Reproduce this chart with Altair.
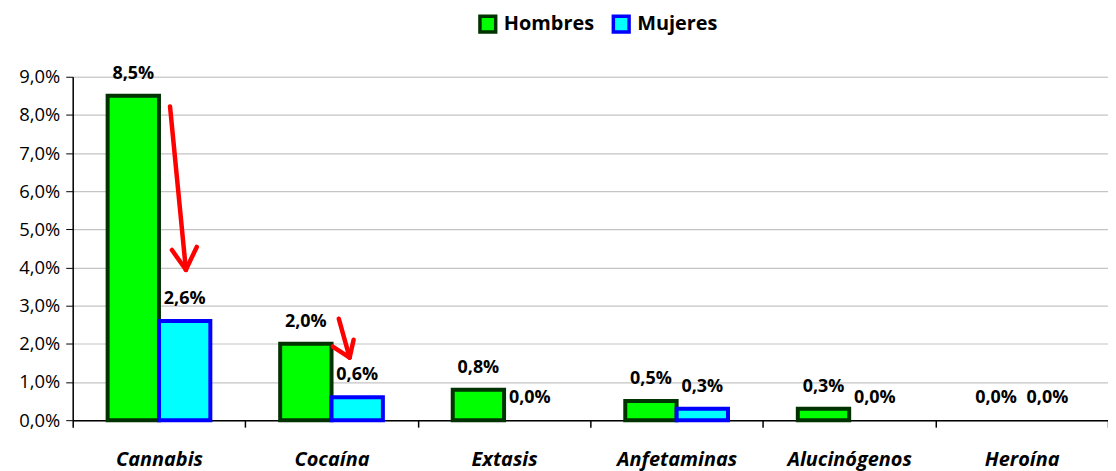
import altair as alt
import pandas as pd

drogas = ["Cannabis", "Cocaína", "Extasis", "Anfetaminas", "Alucinógenos", "Heroína"]
sexos = ["Hombres", "Mujeres"]
hombres = [0.085, 0.020, 0.008, 0.005, 0.003, 0.0]
mujeres = [0.026, 0.006, 0.0, 0.003, 0.0, 0.0]
y_ticks = [0.0, 0.01, 0.02, 0.03, 0.04, 0.05, 0.06, 0.07, 0.08, 0.09]

# red arrow annotations (in band units along x, value units along y)
arrow_x = [0.564, 0.575, 0.719, 1.542, 1.507, 1.628]
arrow_y = [0.0822, 0.0446, 0.0454, 0.0266, 0.0193, 0.0211]
arrow_x2 = [0.656, 0.656, 0.656, 1.605, 1.605, 1.605]
arrow_y2 = [0.0394, 0.0394, 0.0394, 0.0164, 0.0164, 0.0164]

rows = []
for d, h, m in zip(drogas, hombres, mujeres):
    rows.append({"droga": d, "sexo": "Hombres", "valor": h})
    rows.append({"droga": d, "sexo": "Mujeres", "valor": m})
df = pd.DataFrame(rows)
arrows = pd.DataFrame({"x": arrow_x, "y": arrow_y, "x2": arrow_x2, "y2": arrow_y2})

FONT = "Open Sans"

x_enc = alt.X(
    "droga:N",
    sort=drogas,
    scale=alt.Scale(paddingInner=0, paddingOuter=0),
    axis=alt.Axis(
        title=None, labelAngle=0, labelFont=FONT, labelFontSize=20,
        labelFontWeight="bold", labelFontStyle="italic", labelColor="black",
        domainColor="black", domainWidth=1.5, tickColor="black", tickSize=7,
        tickWidth=1.5, tickBand="extent", labelPadding=23, grid=False,
    ),
)
xoff = alt.XOffset("sexo:N", sort=sexos, scale=alt.Scale(paddingOuter=0.68, paddingInner=0))

y_axis = alt.Axis(
    title=None, values=y_ticks, tickCount=12,
    labelExpr="replace(format(datum.value, '.1%'), '.', ',')",
    labelFont=FONT, labelFontSize=18.5, labelColor="black",
    domainColor="black", domainWidth=1.5, tickColor="black", tickSize=7,
    gridColor="#C4C4C4", gridWidth=1.2, labelPadding=6, labelOverlap=False,
)
y_enc = alt.Y("valor:Q", scale=alt.Scale(domain=[0, 0.09], nice=False), axis=y_axis)

leg = alt.Legend(
    title=None, orient="none", legendX=407, legendY=-63, direction="horizontal",
    symbolType="square", symbolSize=250, symbolStrokeWidth=3.5,
    labelFont=FONT, labelFontSize=20, labelFontWeight="bold", labelColor="black",
    columnPadding=12, labelOffset=6, symbolOpacity=1,
)

bars = alt.Chart(df).transform_filter("datum.valor > 0").mark_bar(strokeWidth=4, opacity=1).encode(
    x=x_enc,
    xOffset=xoff,
    y=y_enc,
    fill=alt.Fill("sexo:N", scale=alt.Scale(domain=sexos, range=["#00FF00", "#00FFFF"]), legend=leg),
    stroke=alt.Stroke("sexo:N", scale=alt.Scale(domain=sexos, range=["#003300", "#0000FF"]), legend=leg),
)

labels = alt.Chart(df).transform_calculate(
    lab="replace(format(datum.valor, '.1%'), '.', ',')"
).mark_text(font=FONT, fontSize=18, fontWeight="bold", color="black", dy=-22, baseline="middle").encode(
    x=alt.X("droga:N", sort=drogas),
    xOffset=alt.XOffset("sexo:N", sort=sexos),
    y=alt.Y("valor:Q"),
    text="lab:N",
)

base = alt.layer(bars, labels)

arrow_layer = alt.Chart(arrows).mark_rule(color="#FF0000", strokeWidth=4.5, strokeCap="round").encode(
    x=alt.X("x:Q", scale=alt.Scale(domain=[0, 6], nice=False, zero=False), axis=None),
    x2="x2:Q",
    y=alt.Y("y:Q", scale=alt.Scale(domain=[0, 0.09], nice=False), axis=None),
    y2="y2:Q",
)

chart = alt.layer(base, arrow_layer).resolve_scale(x="independent", y="independent").properties(
    width=1040, height=345,
    padding={"left": 65, "top": 68, "right": 0, "bottom": 50},
    autosize="none",
).configure_view(stroke=None).configure(font=FONT)

chart.save("out.html", embed_options={"renderer": "svg", "actions": False})
